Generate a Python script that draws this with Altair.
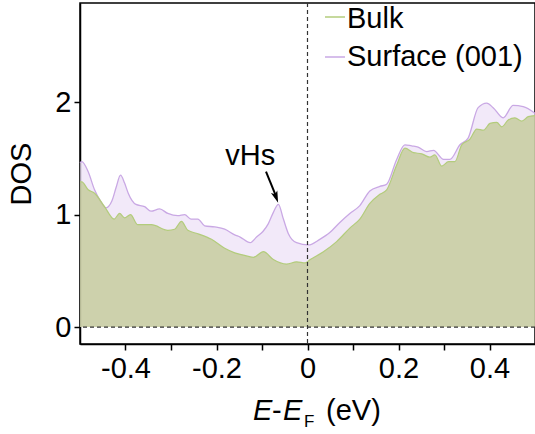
import altair as alt
import pandas as pd

# ---- data ----
surf_x = [-0.5, -0.496, -0.482, -0.468, -0.455, -0.443, -0.43, -0.42, -0.411, -0.402, -0.394,
          -0.377, -0.358, -0.344, -0.325, -0.307, -0.285, -0.270, -0.256, -0.241, -0.226,
          -0.204, -0.182, -0.160, -0.148, -0.126, -0.112, -0.098, -0.086, -0.075, -0.064,
          -0.053, -0.042, -0.024, 0.002, 0.027, 0.049, 0.071, 0.093, 0.115, 0.137, 0.159,
          0.174, 0.196, 0.214, 0.229, 0.243, 0.262, 0.277, 0.299, 0.313, 0.335, 0.353,
          0.375, 0.394, 0.408, 0.430, 0.452, 0.474, 0.5]
surf_y = [1.46, 1.47, 1.38, 1.22, 1.12, 1.06, 1.12, 1.25, 1.35, 1.28, 1.19,
          1.09, 1.07, 1.03, 1.05, 1.01, 0.99, 1.00, 0.96, 0.96, 0.90,
          0.89, 0.87, 0.82, 0.80, 0.75, 0.80, 0.85, 0.92, 1.02, 1.09,
          0.96, 0.83, 0.75, 0.73, 0.78, 0.84, 0.93, 1.01, 1.08, 1.21, 1.25,
          1.27, 1.49, 1.62, 1.61, 1.60, 1.56, 1.57, 1.49, 1.49, 1.62, 1.68,
          1.95, 1.99, 1.95, 1.86, 1.97, 1.96, 1.90]

bulk_x = [-0.5, -0.496, -0.482, -0.468, -0.446, -0.425, -0.413, -0.402, -0.389, -0.373,
          -0.343, -0.307, -0.292, -0.277, -0.263, -0.241, -0.211, -0.182, -0.160, -0.141,
          -0.119, -0.097, -0.075, -0.046, -0.024, -0.005, 0.006, 0.035, 0.064, 0.093,
          0.115, 0.137, 0.159, 0.174, 0.196, 0.214, 0.233, 0.251, 0.269, 0.280, 0.295,
          0.310, 0.324, 0.339, 0.357, 0.372, 0.387, 0.401, 0.416, 0.427, 0.441, 0.456,
          0.471, 0.485, 0.5]
bulk_y = [1.29, 1.29, 1.22, 1.19, 1.07, 0.96, 1.01, 0.97, 1.00, 0.91,
          0.91, 0.86, 0.87, 0.94, 0.86, 0.83, 0.78, 0.70, 0.66, 0.64,
          0.62, 0.67, 0.60, 0.56, 0.58, 0.57, 0.60, 0.67, 0.76, 0.88,
          0.96, 1.10, 1.18, 1.22, 1.44, 1.59, 1.55, 1.54, 1.51, 1.53, 1.43,
          1.47, 1.47, 1.62, 1.67, 1.76, 1.75, 1.81, 1.82, 1.78, 1.84, 1.86,
          1.83, 1.87, 1.88]

x_ticks = [-0.4, -0.3, -0.2, -0.1, 0.0, 0.1, 0.2, 0.3, 0.4]
y_ticks = [0, 1, 2]
legend_labels = ["Bulk", "Surface (001)"]

# annotation (vHs label and arrow) in data units
note_text = ["vHs"]
note_x = [-0.126]
note_y = [1.44]
arrow_x, arrow_y, arrow_x2, arrow_y2 = [-0.0912], [1.382], [-0.0692], [1.165]
head_x, head_y = [-0.0692], [1.157]

FONT = "Liberation Sans"
FS = 29
BULK_FILL = "#bdc68c"
BULK_LINE = "#b3cc7c"
SURF_FILL = "#ecdff6"
SURF_LINE = "#c9a8e4"

surf = pd.DataFrame({"x": surf_x, "y": surf_y, "b": 0.0})
bulk = pd.DataFrame({"x": bulk_x, "y": bulk_y, "b": 0.0})
zero = pd.DataFrame({"v": [0.0]})

xs = alt.Scale(domain=[-0.5, 0.5], nice=False, zero=False)
ys = alt.Scale(domain=[-0.15, 2.88], nice=False, zero=False)

xaxis = alt.Axis(values=x_ticks, title=None, grid=False,
                 labelExpr="abs(round(datum.value*10)) % 2 == 1 ? '' : (abs(datum.value) < 1e-9 ? '0' : (datum.value < 0 ? '-' : '') + format(abs(datum.value), '.1f'))",
                 tickSize=6, labelPadding=4)
yaxis = alt.Axis(values=y_ticks, title="DOS", grid=False, format="d",
                 tickSize=6, labelPadding=3, titlePadding=18)

surf_area = alt.Chart(surf).mark_area(
    color=SURF_FILL, interpolate="monotone",
    line={"color": SURF_LINE, "strokeWidth": 1.3}
).encode(x=alt.X("x:Q", scale=xs, axis=xaxis),
         y=alt.Y("y:Q", scale=ys, axis=yaxis),
         y2="b:Q")

bulk_area = alt.Chart(bulk).mark_area(
    color=BULK_FILL, interpolate="monotone",
    line={"color": BULK_LINE, "strokeWidth": 1.2}
).encode(x="x:Q", y="y:Q", y2="b:Q")

hline = alt.Chart(zero).mark_rule(color="#333333", strokeDash=[4, 3], strokeWidth=1.2).encode(y="v:Q")
vline = alt.Chart(zero).mark_rule(color="#333333", strokeDash=[4, 3], strokeWidth=1.2).encode(x="v:Q")

note = alt.Chart(pd.DataFrame({"t": note_text, "x": note_x, "y": note_y})).mark_text(
    font=FONT, fontSize=FS, color="black", align="center", baseline="alphabetic"
).encode(x="x:Q", y="y:Q", text="t:N")

arrow = alt.Chart(pd.DataFrame({"x": arrow_x, "y": arrow_y, "x2": arrow_x2, "y2": arrow_y2})).mark_rule(
    color="black", strokeWidth=2
).encode(x="x:Q", y="y:Q", x2="x2:Q", y2="y2:Q")

head = alt.Chart(pd.DataFrame({"x": head_x, "y": head_y})).mark_point(
    shape="M 0 1 L -0.55 -0.9 L 0 -0.45 L 0.55 -0.9 Z", size=150, filled=True,
    color="black", opacity=1, angle=340
).encode(x="x:Q", y="y:Q")

# legend
leg_line1 = alt.Chart(zero).mark_rule(color=BULK_LINE, strokeWidth=1.5).encode(
    x=alt.value(245), x2=alt.value(265), y=alt.value(14))
leg_line2 = alt.Chart(zero).mark_rule(color=SURF_LINE, strokeWidth=1.5).encode(
    x=alt.value(245), x2=alt.value(265), y=alt.value(54))
leg_t1 = alt.Chart(zero).mark_text(font=FONT, fontSize=FS, align="left", baseline="alphabetic",
                                   text=legend_labels[0], color="black").encode(
    x=alt.value(267), y=alt.value(25))
leg_t2 = alt.Chart(zero).mark_text(font=FONT, fontSize=FS, align="left", baseline="alphabetic",
                                   text=legend_labels[1], color="black").encode(
    x=alt.value(267), y=alt.value(63))

# x-axis title: E-E_F (eV)
def txt(s, x, y, size=FS, style="normal"):
    return alt.Chart(zero).mark_text(font=FONT, fontSize=size, fontStyle=style, align="left",
                                     baseline="alphabetic", text=s, color="black").encode(
        x=alt.value(x), y=alt.value(y))

xt = [txt("E", 173, 417, style="italic"), txt("-", 192, 417), txt("E", 203, 417, style="italic"),
      txt("F", 224, 424, size=17), txt("(eV)", 246, 417)]

chart = alt.layer(surf_area, bulk_area, hline, vline, note, arrow, head,
                  leg_line1, leg_line2, leg_t1, leg_t2, *xt).properties(
    width=455, height=341,
    autosize=alt.AutoSizeParams(type="none"),
    padding={"left": 80, "top": 3, "right": 0, "bottom": 90},
).configure_view(stroke="black", strokeWidth=1.5).configure_axis(
    labelFont=FONT, labelFontSize=FS, labelColor="black",
    titleFont=FONT, titleFontSize=FS, titleFontWeight="normal", titleColor="black",
    domainColor="black", domainWidth=1.5, tickColor="black", tickWidth=1.5
)

chart.save("out.html", embed_options={"renderer": "svg", "actions": False})
